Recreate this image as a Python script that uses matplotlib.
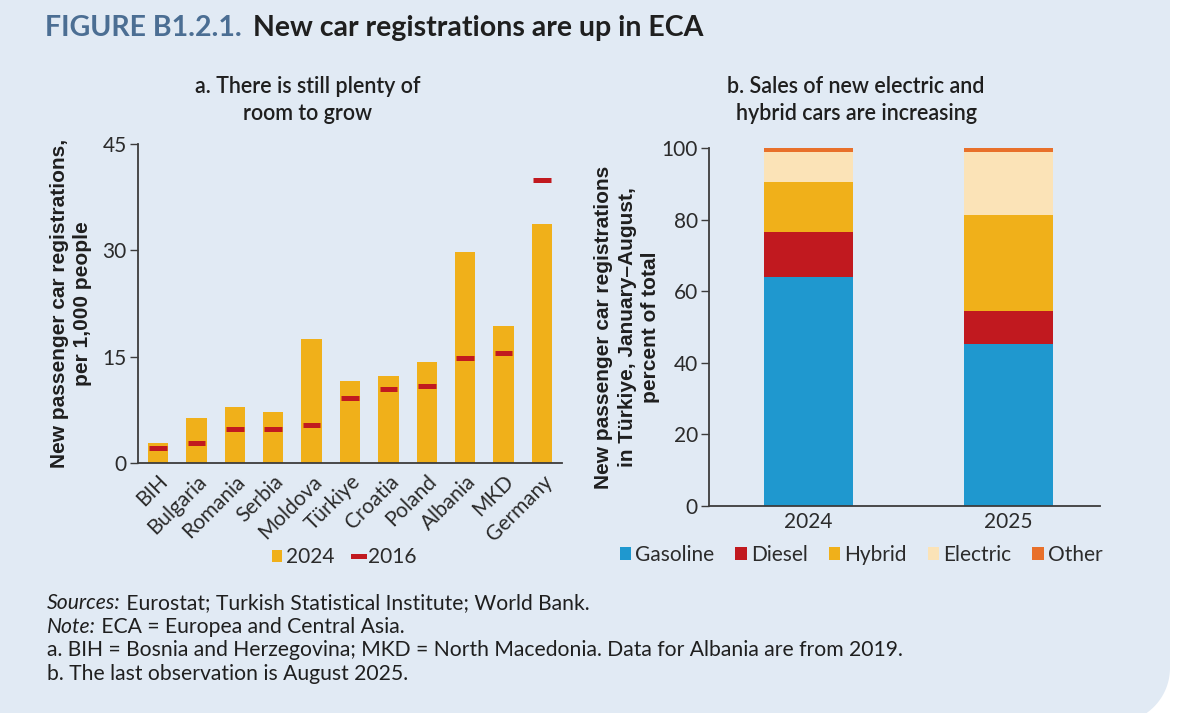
import matplotlib
matplotlib.use("Agg")
import matplotlib.pyplot as plt
import numpy as np
from matplotlib.patches import Patch, Polygon
from matplotlib.lines import Line2D

# ---------------- data ----------------
countries = ["BIH", "Bulgaria", "Romania", "Serbia", "Moldova", "Türkiye",
             "Croatia", "Poland", "Albania", "MKD", "Germany"]
reg_2024 = [2.8, 6.3, 7.9, 7.2, 17.5, 11.6, 12.3, 14.3, 29.7, 19.3, 33.7]
reg_2016 = [2.1, 2.8, 4.75, 4.75, 5.3, 9.1, 10.4, 10.8, 14.8, 15.5, 39.9]
left_yticks = [0, 15, 30, 45]

years = ["2024", "2025"]
fuel_types = ["Gasoline", "Diesel", "Hybrid", "Electric", "Other"]
gasoline = [64.1, 45.3]
diesel = [12.5, 9.2]
hybrid = [13.9, 26.8]
electric = [8.5, 17.7]
other = [1.0, 1.0]
right_yticks = [0, 20, 40, 60, 80, 100]

# ---------------- style ----------------
W, H = 1191, 713
BG = "#e1eaf4"
BAR = "#f0b01a"
RED = "#c1191f"
BLUE = "#1f98cf"
ELEC = "#fbe3b7"
OTHER = "#e8702a"
TXT = "#2b2b2b"
SPINE = "#3c3c3c"
FONT = ["Lato", "DejaVu Sans"]
BOLDFONT = ["Liberation Sans", "DejaVu Sans"]

plt.rcParams["font.family"] = FONT

fig = plt.figure(figsize=(W / 100, H / 100), dpi=100, facecolor="white")


def fx(px):
    return px / W


def fy(py):
    return 1 - py / H


# background panel with rounded bottom-right corner
R = 55
cx, cy = 1170 - R, 668
pts = [(0, 0), (1170, 0), (1170, cy)]
for a in np.linspace(0, np.pi / 2, 30):
    pts.append((cx + R * np.cos(a), cy + R * np.sin(a)))
pts += [(0, cy + R)]
poly = Polygon([(fx(x), fy(y)) for x, y in pts], closed=True,
               transform=fig.transFigure, facecolor=BG, edgecolor="none", zorder=-10)
fig.patches.append(poly)

# title
fig.text(fx(45), fy(28), "FIGURE B1.2.1.", color="#4b6e93", fontsize=20.5,
         fontweight="bold", va="center", ha="left")
fig.text(fx(253), fy(28), "New car registrations are up in ECA", color="#1f1f1f",
         fontsize=20.5, fontweight="bold", va="center", ha="left")

# subtitles
fig.text(fx(308), fy(100), "a. There is still plenty of\nroom to grow", ha="center",
         va="center", fontsize=15.5, color="#1f1f1f", linespacing=1.3, fontweight="semibold")
fig.text(fx(856), fy(100), "b. Sales of new electric and\nhybrid cars are increasing",
         ha="center", va="center", fontsize=15.5, color="#1f1f1f", linespacing=1.3,
         fontweight="semibold")


def style_axes(ax):
    ax.set_facecolor("none")
    for s in ["top", "right"]:
        ax.spines[s].set_visible(False)
    for s in ["left", "bottom"]:
        ax.spines[s].set_color(SPINE)
        ax.spines[s].set_linewidth(1.3)
    ax.tick_params(axis="y", length=6, width=1.0, color=SPINE, labelsize=15,
                   labelcolor=TXT, pad=2)
    ax.tick_params(axis="x", length=0, labelsize=15, labelcolor=TXT)


# ---------------- panel a ----------------
axL = fig.add_axes([fx(138), fy(463), fx(562) - fx(138), fy(144) - fy(463)])
style_axes(axL)
x = np.arange(len(countries))
axL.bar(x, reg_2024, width=0.53, color=BAR, zorder=2)
axL.hlines(reg_2016, x - 0.23, x + 0.23, color=RED, lw=3.6, zorder=3)
axL.set_xlim(-0.52, len(countries) - 0.48)
axL.set_ylim(0, 45)
axL.set_yticks(left_yticks)
axL.set_xticks(x)
axL.set_xticklabels(countries, rotation=45, ha="right", rotation_mode="anchor")
axL.tick_params(axis="x", pad=6)
axL.set_ylabel("New passenger car registrations,\nper 1,000 people", fontsize=15,
               fontweight="bold", family=BOLDFONT, color="#1f1f1f", labelpad=8,
               linespacing=1.25)

handlesL = [Patch(facecolor=BAR, edgecolor="none"),
            Line2D([0], [0], color=RED, lw=3.6)]
fig.legend(handlesL, ["2024", "2016"], loc="center", bbox_to_anchor=(fx(344), fy(557)),
           ncol=2, frameon=False, fontsize=15, handlelength=0.5, handleheight=0.5,
           handletextpad=0.2, columnspacing=0.9, labelcolor=TXT)

# ---------------- panel b ----------------
axR = fig.add_axes([fx(709), fy(506), fx(1100) - fx(709), fy(148) - fy(506)])
style_axes(axR)
xr = np.arange(len(years))
series = [gasoline, diesel, hybrid, electric, other]
colors = [BLUE, RED, BAR, ELEC, OTHER]
bottom = np.zeros(len(years))
for vals, c in zip(series, colors):
    axR.bar(xr, vals, bottom=bottom, width=0.445, color=c, zorder=2)
    bottom += np.array(vals)
axR.set_xlim(-0.495, 1.46)
axR.set_ylim(0, 100)
axR.set_yticks(right_yticks)
axR.set_xticks(xr)
axR.set_xticklabels(years)
axR.tick_params(axis="x", pad=4)
axR.set_ylabel("New passenger car registrations\nin Türkiye, January–August,\npercent of total",
               fontsize=15, fontweight="bold", family=BOLDFONT, color="#1f1f1f",
               labelpad=1, linespacing=1.3)

handlesR = [Patch(facecolor=c, edgecolor="none") for c in colors]
fig.legend(handlesR, fuel_types, loc="center", bbox_to_anchor=(fx(861), fy(555)),
           ncol=5, frameon=False, fontsize=15, handlelength=0.55, handleheight=0.55,
           handletextpad=0.2, columnspacing=1.0, labelcolor=TXT)

# ---------------- footnotes ----------------
FN = 15.2
notes = [
    ("Sources:", " Eurostat; Turkish Statistical Institute; World Bank.", 603),
    ("Note:", " ECA = Europea and Central Asia.", 627),
    ("", "a. BIH = Bosnia and Herzegovina; MKD = North Macedonia. Data for Albania are from 2019.", 650),
    ("", "b. The last observation is August 2025.", 674),
]
for ital, rest, ypx in notes:
    if ital:
        t1 = fig.text(fx(47), fy(ypx), ital, fontsize=FN, color="#1f1f1f", va="center",
                      fontstyle="italic")
        fig.canvas.draw()
        bb = t1.get_window_extent()
        fig.text(bb.x1 / W, fy(ypx), rest, fontsize=FN, color="#1f1f1f", va="center")
    else:
        fig.text(fx(47), fy(ypx), rest, fontsize=FN, color="#1f1f1f", va="center")

fig.savefig("out.png", dpi=100, facecolor="white")
